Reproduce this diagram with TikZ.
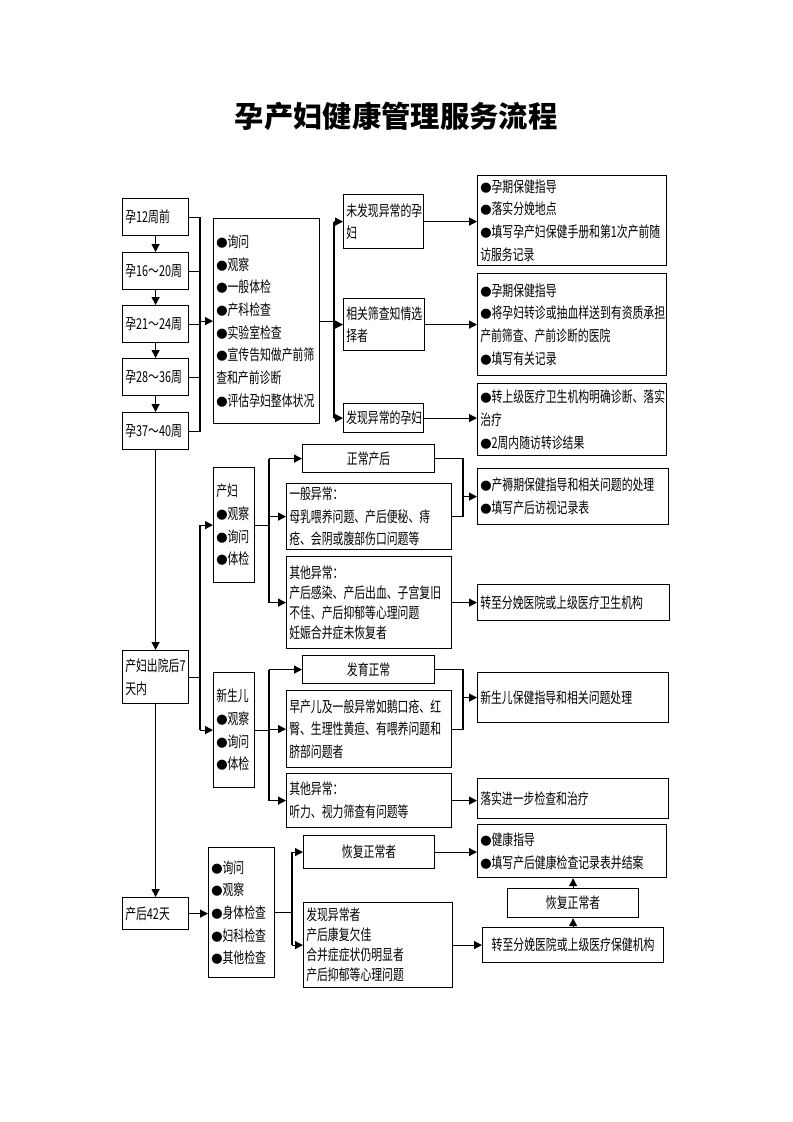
\documentclass[tikz,border=0pt]{standalone}
\usepackage{fontspec}
\usepackage{tikz}
\usetikzlibrary{arrows.meta}
\newfontfamily\cjk[FakeStretch=0.72]{Noto Sans CJK SC}
\newfontfamily\titlefont{Noto Sans CJK SC}
\newcommand\bul{{\titlefont\fontsize{8.5pt}{0pt}\selectfont ●}}
\newdimen\px \px=0.75pt

\tikzset{
 box/.style={draw, line width=0.9pt, anchor=north west, inner xsep=2pt, inner ysep=0pt,
   align=left, font=\cjk\fontsize{11.3pt}{17pt}\selectfont},
 cbox/.style={box, align=center},
 bw/.code={\pgfmathsetlengthmacro\boxtw{#1*0.75pt-4pt}\tikzset{text width/.expanded={\boxtw}}},
 mw/.style={minimum width=#1\px},
 bh/.style={minimum height=#1\px},
 tight/.style={font=\cjk\fontsize{11.3pt}{15pt}\selectfont},
 arr/.style={-{Triangle[length=6pt,width=6pt]}, line width=0.9pt},
 ln/.style={line width=0.9pt},
}

\begin{document}
\begin{tikzpicture}[x=1\px, y=-1\px]
\path[use as bounding box, fill=white] (0,0) rectangle (793,1122);

\node[font=\titlefont\bfseries\fontsize{22pt}{26pt}\selectfont] (title) at (396,116) {孕产妇健康管理服务流程};

% pregnancy checks
\node[box, bw=66, bh=37] (t12) at (122,198) {孕12周前};
\node[box, bw=66, bh=37] (t16) at (122,252) {孕16～20周};
\node[box, bw=66, bh=37] (t21) at (122,305) {孕21～24周};
\node[box, bw=66, bh=37] (t28) at (122,358) {孕28～36周};
\node[box, bw=66, bh=37] (t37) at (122,412) {孕37～40周};

\node[box, bw=106, bh=205] (chk) at (213,218) {\bul 询问\\\bul 观察\\\bul 一般体检\\\bul 产科检查\\\bul 实验室检查\\\bul 宣传告知做产前筛\\查和产前诊断\\\bul 评估孕妇整体状况};

\node[box, bw=80, bh=54] (ok1) at (343,194) {未发现异常的孕\\妇};
\node[box, bw=81, bh=52] (sel) at (343,298) {相关筛查知情选\\择者};
\node[box, bw=80, bh=29] (abn) at (343,403) {发现异常的孕妇};

\node[box, bw=189, bh=90] (r1) at (477,175) {\bul 孕期保健指导\\\bul 落实分娩地点\\\bul 填写孕产妇保健手册和第1次产前随\\访服务记录};
\node[box, bw=189, bh=102] (r2) at (477,273) {\bul 孕期保健指导\\\bul 将孕妇转诊或抽血样送到有资质承担\\产前筛查、产前诊断的医院\\\bul 填写有关记录};
\node[box, bw=189, bh=72] (r3) at (477,383) {\bul 转上级医疗卫生机构明确诊断、落实\\治疗\\\bul 2周内随访转诊结果};

% postpartum visit
\node[box, bw=66, bh=53] (pp) at (122,650) {产妇出院后7\\天内};

\node[box, bw=41, bh=115] (mom) at (213,467) {产妇\\\bul 观察\\\bul 询问\\\bul 体检};
\node[cbox, mw=132, bh=28] (n1) at (302,444) {正常产后};
\node[box, bw=165, bh=66] (n2) at (286,483) {一般异常：\\母乳喂养问题、产后便秘、痔\\疮、会阴或腹部伤口问题等};
\node[box, tight, bw=165, bh=92] (n3) at (286,556) {其他异常：\\产后感染、产后出血、子宫复旧\\不佳、产后抑郁等心理问题\\妊娠合并症未恢复者};
\node[box, bw=191, bh=56] (rp1) at (477,468) {\bul 产褥期保健指导和相关问题的处理\\\bul 填写产后访视记录表};
\node[box, bw=192, bh=36] (rp2) at (477,584) {转至分娩医院或上级医疗卫生机构};

\node[box, bw=41, bh=115] (baby) at (213,672) {新生儿\\\bul 观察\\\bul 询问\\\bul 体检};
\node[cbox, mw=132, bh=28] (b1) at (302,655) {发育正常};
\node[box, bw=165, bh=77] (b2) at (286,690) {早产儿及一般异常如鹅口疮、红\\臀、生理性黄疸、有喂养问题和\\脐部问题者};
\node[box, bw=165, bh=54] (b3) at (286,773) {其他异常：\\听力、视力筛查有问题等};
\node[box, bw=191, bh=50] (rb1) at (477,672) {新生儿保健指导和相关问题处理};
\node[box, bw=191, bh=40] (rb2) at (477,778) {落实进一步检查和治疗};

% 42 days
\node[box, bw=66, bh=32] (d42) at (122,897) {产后42天};
\node[box, bw=66, bh=130] (chk2) at (208,847) {\bul 询问\\\bul 观察\\\bul 身体检查\\\bul 妇科检查\\\bul 其他检查};
\node[cbox, mw=131, bh=33] (c1) at (303,835) {恢复正常者};
\node[box, tight, bw=149, bh=85] (c2) at (303,902) {发现异常者\\产后康复欠佳\\合并症症状仍明显者\\产后抑郁等心理问题};
\node[box, bw=189, bh=53] (f1) at (477,824) {\bul 健康指导\\\bul 填写产后健康检查记录表并结案};
\node[cbox, mw=131, bh=29] (f2) at (507,888) {恢复正常者};
\node[cbox, mw=181, bh=35] (f3) at (482,927) {转至分娩医院或上级医疗保健机构};

% junction columns
\coordinate (j1) at (200,0);
\coordinate (j2) at (334,0);
\coordinate (j4) at (269,0);
\coordinate (j5) at (463,0);
\coordinate (j6) at (292,0);

% connectors
\draw[arr] (t12) -- (t16);
\draw[arr] (t16) -- (t21);
\draw[arr] (t21) -- (t28);
\draw[arr] (t28) -- (t37);
\draw[ln] (t12.east) -- (t12.east -| j1) -- (t37.east -| j1) -- (t37.east);
\foreach \n in {t16,t21,t28}
  \draw[ln] (\n.east) -- (\n.east -| j1);
\draw[arr] (chk.west -| j1) -- (chk.west);

\draw[ln] (chk.east) -- (chk.east -| j2);
\draw[ln] (ok1.west -| j2) -- (abn.west -| j2);
\foreach \n in {ok1,sel,abn}
  \draw[arr] (\n.west -| j2) -- (\n.west);
\draw[arr] (ok1.east) -- (ok1.east -| r1.west);
\draw[arr] (sel.east) -- (sel.east -| r2.west);
\draw[arr] (abn.east) -- (abn.east -| r3.west);

\draw[arr] (t37) -- (pp);
\draw[ln] (pp.east) -- (pp.east -| j1);
\draw[ln] (mom.west -| j1) -- (baby.west -| j1);
\draw[arr] (mom.west -| j1) -- (mom.west);
\draw[arr] (baby.west -| j1) -- (baby.west);

\draw[ln] (mom.east) -- (mom.east -| j4);
\draw[ln] (n1.west -| j4) -- (n3.west -| j4);
\foreach \n in {n1,n2,n3}
  \draw[arr] (\n.west -| j4) -- (\n.west);
\draw[ln] (n1.east) -- (n1.east -| j5) -- (n2.east -| j5) -- (n2.east);
\draw[arr] (rp1.west -| j5) -- (rp1.west);
\draw[arr] (n3.east) -- (n3.east -| rp2.west);

\draw[ln] (baby.east) -- (baby.east -| j4);
\draw[ln] (b1.west -| j4) -- (b3.west -| j4);
\foreach \n in {b1,b2,b3}
  \draw[arr] (\n.west -| j4) -- (\n.west);
\draw[ln] (b1.east) -- (b1.east -| j5) -- (b2.east -| j5) -- (b2.east);
\draw[arr] (rb1.west -| j5) -- (rb1.west);
\draw[arr] (b3.east) -- (b3.east -| rb2.west);

\draw[arr] (pp) -- (d42);
\draw[arr] (d42.east) -- (d42.east -| chk2.west);
\draw[ln] (chk2.east) -- (chk2.east -| j6);
\draw[ln] (c1.west -| j6) -- (c2.west -| j6);
\draw[arr] (c1.west -| j6) -- (c1.west);
\draw[arr] (c2.west -| j6) -- (c2.west);
\draw[arr] (c1.east) -- (c1.east -| f1.west);
\draw[arr] (c2.east) -- (c2.east -| f3.west);
\draw[arr] (f3) -- (f2);
\draw[arr] (f2.north) -- (f2.north |- f1.south);
\end{tikzpicture}
\end{document}
